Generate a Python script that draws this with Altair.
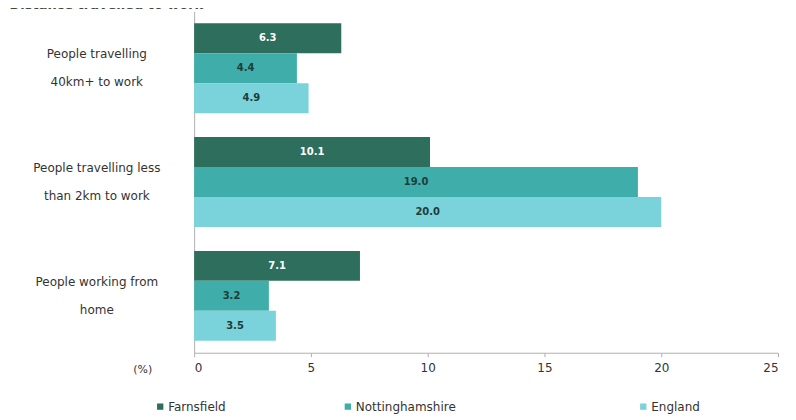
import altair as alt
import pandas as pd

title_text = "Distance travelled to work"
categories = ["People travelling|40km+ to work",
              "People travelling less|than 2km to work",
              "People working from|home"]
series = ["Farnsfield", "Nottinghamshire", "England"]
farnsfield = [6.3, 10.1, 7.1]
nottinghamshire = [4.4, 19.0, 3.2]
england = [4.9, 20.0, 3.5]
colors = ["#2d6e5c", "#3fada9", "#7ad3da"]
x_ticks = [0, 5, 10, 15, 20, 25]

rows = []
for s, vals in zip(series, [farnsfield, nottinghamshire, england]):
    for c, v in zip(categories, vals):
        rows.append({"category": c, "series": s, "value": v})
df = pd.DataFrame(rows)

FONT = "DejaVu Sans"
PAD = "\u00a0" * 17 + "\u200b"

y_enc = alt.Y("category:N", sort=categories,
              scale=alt.Scale(paddingInner=0.21, paddingOuter=0.105),
              axis=alt.Axis(title=None, labelExpr="split(datum.label, '|')",
                            labelAlign="center", labelPadding=98, labelLineHeight=28,
                            labelBaseline="middle", labelOffset=-14,
                            ticks=False, tickSize=0,
                            domainColor="#b0b0b0", labelFont=FONT, labelFontSize=12,
                            labelColor="#333333", labelLimit=300))
yoff = alt.YOffset("series:N", sort=series, scale=alt.Scale(paddingInner=0, paddingOuter=0))

x_axis = alt.Axis(values=x_ticks, grid=False, title="(%)", titleX=-52, titleY=17,
                  titleAngle=0, titleAlign="center", titleBaseline="middle",
                  titleFontWeight="normal", titleFontSize=11, titleFont=FONT,
                  titleColor="#333333", domainColor="#b0b0b0", tickColor="#b0b0b0",
                  tickSize=4, labelPadding=6, labelFont=FONT, labelFontSize=12,
                  labelColor="#333333")

x_scale = alt.Scale(domain=[0, 25], nice=False)

base = alt.Chart(df)

bars = base.mark_bar().encode(
    y=y_enc, yOffset=yoff,
    x=alt.X("value:Q", scale=x_scale, axis=x_axis),
    color=alt.Color("series:N", sort=series,
                    scale=alt.Scale(domain=series, range=colors),
                    legend=alt.Legend(title=None, orient="none", legendX=-40, legendY=390,
                                      direction="horizontal", symbolType="square",
                                      symbolSize=40, symbolStrokeWidth=0,
                                      labelFontSize=12, labelFont=FONT,
                                      labelColor="#333333", columnPadding=116,
                                      labelOffset=2, labelLimit=400,
                                      labelExpr="datum.label == 'Nottinghamshire' ? datum.label + '" + PAD + "' : datum.label")),
)

labels = base.transform_calculate(mid="datum.value / 2").mark_text(
    fontSize=10, fontWeight="bold", font=FONT).encode(
    y=y_enc, yOffset=yoff,
    x=alt.X("mid:Q", title="(%)", scale=x_scale),
    text=alt.Text("value:Q", format=".1f"),
    color=alt.condition(alt.datum.series == "Farnsfield",
                        alt.value("#ffffff"), alt.value("#1d3d3a")),
)

title = alt.Chart(pd.DataFrame({"t": [title_text]})).mark_text(
    align="left", baseline="bottom", fontSize=13, fontWeight="bold",
    font=FONT, color="#444444").encode(
    x=alt.value(-185), y=alt.value(1), text="t:N")

chart = alt.layer(bars, labels, title).properties(
    width=585, height=342,
    autosize=alt.AutoSizeParams(type="none"),
    padding={"left": 186.5, "top": 3, "right": 10, "bottom": 70},
).configure_view(stroke=None)

chart.save("out.html", embed_options={"renderer": "svg", "actions": False})
